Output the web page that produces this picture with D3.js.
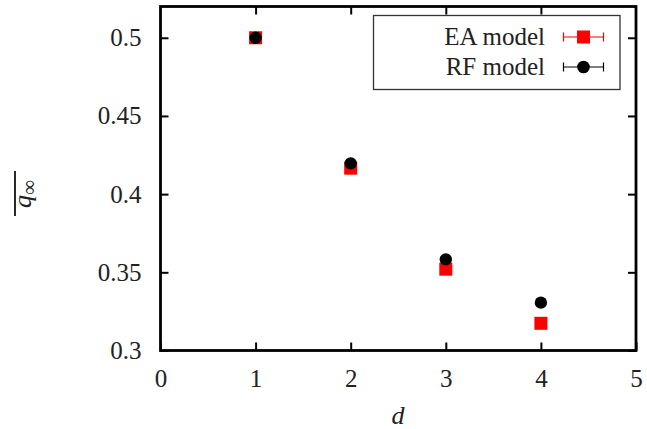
<!DOCTYPE html>
<html lang="en">
<head>
<meta charset="UTF-8">
<title>q infinity vs d</title>
<script src="https://d3js.org/d3.v7.min.js"></script>
<style>
  body { margin: 0; background: #fff; }
  svg text { font-family: "Liberation Serif", "DejaVu Serif", serif; fill: #222; }
  .axis path, .axis line { stroke: #000; }
</style>
</head>
<body>
<svg width="647" height="429"></svg>
<script>
// data
const dims = [1, 2, 3, 4];
const eaValues = [0.5, 0.4166, 0.352, 0.3174];
const rfValues = [0.5, 0.4197, 0.3583, 0.3306];
const xTicks = [0, 1, 2, 3, 4, 5];
const yTicks = [0.3, 0.35, 0.4, 0.45, 0.5];
const legendLabels = ["EA model", "RF model"];

const svg = d3.select("svg");
const plotLeft = 160.5, plotRight = 636, plotTop = 6.5, plotBottom = 350.5;

const x = d3.scaleLinear().domain([0, 5]).range([plotLeft, plotRight]);
const y = d3.scaleLinear().domain([0.3, 0.52]).range([plotBottom, plotTop]);

function styleAxis(g) {
    g.select(".domain").remove();
    g.selectAll("line").attr("stroke-width", 2);
    g.attr("font-family", '"Liberation Serif", serif').attr("font-size", 25);
    g.selectAll("text")
        .attr("font-family", '"Liberation Serif", serif')
        .style("font-family", '"Liberation Serif", serif')
        .style("font-size", "25px")
        .attr("fill", "#222");
}

// inward ticks on all four sides
svg.append("g").attr("class", "axis")
    .attr("transform", `translate(0,${plotBottom})`)
    .call(d3.axisBottom(x).tickValues(xTicks).tickFormat(d3.format("d"))
        .tickSizeInner(-8).tickSizeOuter(0).tickPadding(19))
    .call(styleAxis);

svg.append("g").attr("class", "axis")
    .attr("transform", `translate(0,${plotTop})`)
    .call(d3.axisTop(x).tickValues(xTicks.slice(1, -1)).tickFormat("")
        .tickSizeInner(-8).tickSizeOuter(0))
    .call(styleAxis);

svg.append("g").attr("class", "axis")
    .attr("transform", `translate(${plotLeft},0)`)
    .call(d3.axisLeft(y).tickValues(yTicks).tickFormat(d => String(+d.toFixed(2)))
        .tickSizeInner(-8).tickSizeOuter(0).tickPadding(19))
    .call(styleAxis);

svg.append("g").attr("class", "axis")
    .attr("transform", `translate(${plotRight},0)`)
    .call(d3.axisRight(y).tickValues(yTicks).tickFormat("")
        .tickSizeInner(-8).tickSizeOuter(0))
    .call(styleAxis);

// frame
svg.append("rect")
    .attr("x", plotLeft).attr("y", plotTop)
    .attr("width", plotRight - plotLeft).attr("height", plotBottom - plotTop)
    .attr("fill", "none").attr("stroke", "#000").attr("stroke-width", 2.8);

// legend
const legend = svg.append("g");
legend.append("rect")
    .attr("x", 373.5).attr("y", 15.5).attr("width", 246.5).attr("height", 74)
    .attr("fill", "#fff").attr("stroke", "#333").attr("stroke-width", 1.3);

const legendColors = ["#ff0000", "#000"];
legendLabels.forEach((label, i) => {
    const ly = 37 + i * 30;
    legend.append("text")
        .attr("x", 545).attr("y", ly + 8)
        .attr("text-anchor", "end")
        .style("font-size", "25px")
        .text(label);
    legend.append("line")
        .attr("x1", 563.5).attr("x2", 603.5).attr("y1", ly).attr("y2", ly)
        .attr("stroke", legendColors[i]).attr("stroke-width", 1.2);
    [563.5, 603.5].forEach(cx => legend.append("line")
        .attr("x1", cx).attr("x2", cx).attr("y1", ly - 4.5).attr("y2", ly + 4.5)
        .attr("stroke", legendColors[i]).attr("stroke-width", 1.2));
    if (i === 0) {
        legend.append("rect").attr("x", 583.5 - 6.5).attr("y", ly - 6.5)
            .attr("width", 13).attr("height", 13).attr("fill", legendColors[i]);
    } else {
        legend.append("circle").attr("cx", 583.5).attr("cy", ly).attr("r", 6.3)
            .attr("fill", legendColors[i]);
    }
});

// EA model squares
svg.append("g").selectAll("rect")
    .data(dims.map((d, i) => ({ d, v: eaValues[i] })))
    .join("rect")
    .attr("x", p => x(p.d) - 6.5).attr("y", p => y(p.v) - 6.5)
    .attr("width", 13).attr("height", 13)
    .attr("fill", "#ff0000");

// RF model circles
svg.append("g").selectAll("circle")
    .data(dims.map((d, i) => ({ d, v: rfValues[i] })))
    .join("circle")
    .attr("cx", p => x(p.d)).attr("cy", p => y(p.v)).attr("r", 6.2)
    .attr("fill", "#000");

// axis labels
svg.append("text")
    .attr("x", 398).attr("y", 424)
    .attr("text-anchor", "middle")
    .style("font-size", "26px").style("font-style", "italic")
    .text("d");

const ylab = svg.append("g").attr("transform", "translate(31,194) rotate(-90)");
const yt = ylab.append("text").attr("x", 0).attr("y", 0)
    .attr("text-anchor", "middle")
    .style("font-size", "26px");
yt.append("tspan").style("font-style", "italic").text("q");
yt.append("tspan").attr("dy", 5).style("font-size", "21px").text("∞");
ylab.append("line")
    .attr("x1", -22).attr("x2", 23).attr("y1", -16).attr("y2", -16)
    .attr("stroke", "#111").attr("stroke-width", 1.8);
</script>
</body>
</html>
